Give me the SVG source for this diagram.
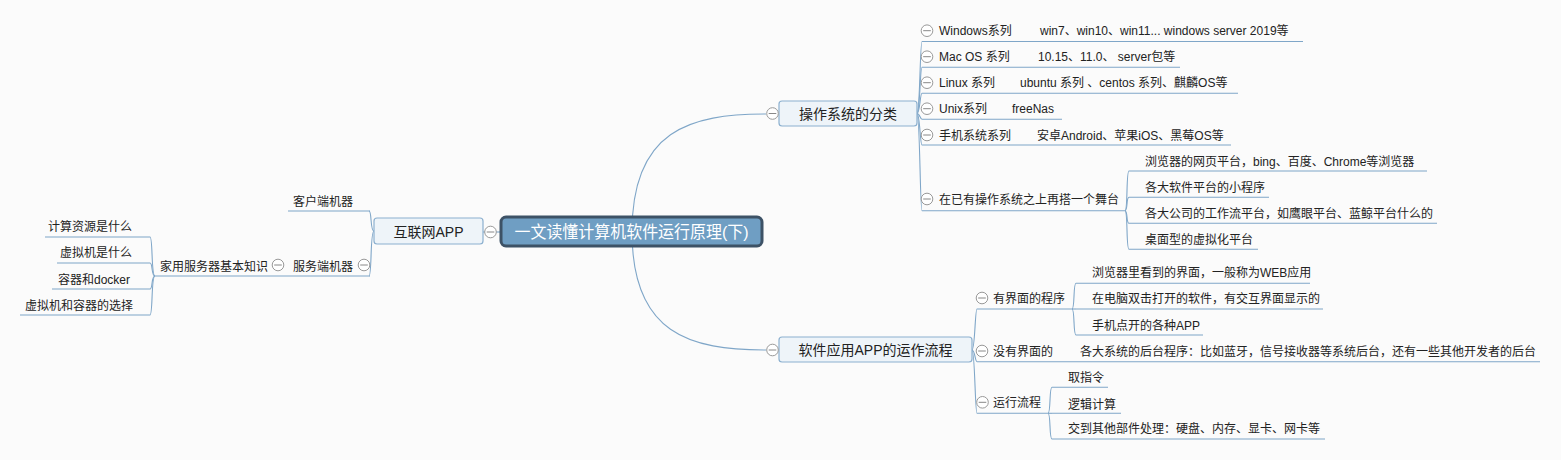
<svg xmlns="http://www.w3.org/2000/svg" xmlns:xlink="http://www.w3.org/1999/xlink" width="1561" height="460" viewBox="0 0 1561 460">
<style>
text{font-family:"Liberation Sans","Noto Sans CJK SC",sans-serif;fill:#222;font-size:12px}
.t14{font-size:14px}
.root{font-size:16.5px;fill:#fff}
.c{fill:none;stroke:#7fa6c8;stroke-width:1.1}
.u{fill:none;stroke:#7fa6c8;stroke-width:1.1}
.box{fill:#eef4f9;stroke:#8cb0cf;stroke-width:1.2}
.mc{fill:#fff;stroke:#999;stroke-width:1}
.ml{stroke:#888;stroke-width:1}
</style>
<defs>
<g id="minus"><circle class="mc" r="5.8"/><line class="ml" x1="-3.8" y1="0" x2="3.8" y2="0"/></g>
</defs>
<rect width="1561" height="460" fill="#fbfbfb"/>

<g id="connectors">
<path class="c" d="M632 232 C632 130 690 114 766 114"/>
<path class="c" d="M632 232 C632 334 690 350 766 350"/>
<path class="c" d="M483 232 L501 232"/>
<path class="c" d="M374 231 C370 231 372 211 369 211"/>
<path class="c" d="M374 231 C370 231 372 276 369 276"/>
<path class="c" d="M155 276 C151 276 153 237 150 237"/>
<path class="c" d="M155 276 C151 276 153 263 150 263"/>
<path class="c" d="M155 276 C151 276 153 289 150 289"/>
<path class="c" d="M155 276 C151 276 153 315 150 315"/>
<path class="c" d="M917 113.5 C920 113.5 920 41.5 922 41.5"/>
<path class="c" d="M917 113.5 C920 113.5 920 67.3 922 67.3"/>
<path class="c" d="M917 113.5 C920 113.5 920 93.3 922 93.3"/>
<path class="c" d="M917 113.5 C920 113.5 920 119.3 922 119.3"/>
<path class="c" d="M917 113.5 C920 113.5 920 145 922 145"/>
<path class="c" d="M917 113.5 C920 113.5 920 210.7 922 210.7"/>
<path class="c" d="M1125 210.7 C1128 210.7 1126 171 1129 171"/>
<path class="c" d="M1125 210.7 C1128 210.7 1126 197.3 1129 197.3"/>
<path class="c" d="M1125 210.7 C1128 210.7 1126 223.3 1129 223.3"/>
<path class="c" d="M1125 210.7 C1128 210.7 1126 249.3 1129 249.3"/>
<path class="c" d="M972 350 C975 350 975 309 977 309"/>
<path class="c" d="M972 350 C975 350 975 361.7 977 361.7"/>
<path class="c" d="M972 350 C975 350 975 413.3 977 413.3"/>
<path class="c" d="M1072 309 C1075 309 1073 283.3 1076 283.3"/>
<path class="c" d="M1072 309 L1076 309"/>
<path class="c" d="M1072 309 C1075 309 1073 335 1076 335"/>
<path class="c" d="M1048 413.3 C1051 413.3 1049 387.3 1052 387.3"/>
<path class="c" d="M1048 413.3 L1052 413.3"/>
<path class="c" d="M1048 413.3 C1051 413.3 1049 439 1052 439"/>
</g>

<g id="root">
<rect x="501" y="217" width="261" height="29" rx="5" fill="#6f9ec3" stroke="#3d5266" stroke-width="3"/>
<text class="root" x="631.5" y="237.5" text-anchor="middle" textLength="234" lengthAdjust="spacingAndGlyphs">一文读懂计算机软件运行原理(下)</text>
</g>

<g id="n-internet">
<rect class="box" x="374" y="218" width="109" height="26" rx="3"/>
<text class="t14" x="428.5" y="236.5" text-anchor="middle">互联网APP</text>
<use xlink:href="#minus" x="490.5" y="232"/>
</g>
<g id="n-client">
<text x="293" y="206">客户端机器</text>
<path class="u" d="M288 211 L370 211"/>
</g>
<g id="n-server">
<text x="293" y="270.5">服务端机器</text>
<path class="u" d="M288 276 L370 276"/>
<use xlink:href="#minus" x="364" y="265"/>
</g>
<g id="n-home">
<text x="160" y="270.5">家用服务器基本知识</text>
<path class="u" d="M155 276 L288 276"/>
<use xlink:href="#minus" x="278" y="265"/>
</g>
<g id="n-h1"><text x="132" y="231" text-anchor="end">计算资源是什么</text><path class="u" d="M45 237 L150 237"/></g>
<g id="n-h2"><text x="132" y="257" text-anchor="end">虚拟机是什么</text><path class="u" d="M57 263 L150 263"/></g>
<g id="n-h3"><text x="130" y="283.5" text-anchor="end">容器和docker</text><path class="u" d="M52 289 L150 289"/></g>
<g id="n-h4"><text x="133" y="309.5" text-anchor="end">虚拟机和容器的选择</text><path class="u" d="M20 315 L150 315"/></g>

<g id="n-os">
<rect class="box" x="779" y="101" width="138" height="25" rx="3"/>
<text class="t14" x="848" y="118.5" text-anchor="middle">操作系统的分类</text>
<use xlink:href="#minus" x="772.5" y="113.5"/>
</g>
<g id="n-win"><use xlink:href="#minus" x="927" y="30.7"/><text x="939" y="35.2">Windows系列</text><path class="u" d="M922 41.5 L1035 41.5"/></g>
<g id="n-win-c"><text x="1040" y="35.2">win7、win10、win11... windows server 2019等</text><path class="u" d="M1035 41.5 L1303 41.5"/></g>
<g id="n-mac"><use xlink:href="#minus" x="927" y="56.7"/><text x="939" y="61.2">Mac OS 系列</text><path class="u" d="M922 67.3 L1033 67.3"/></g>
<g id="n-mac-c"><text x="1038" y="61.2">10.15、11.0、 server包等</text><path class="u" d="M1033 67.3 L1180 67.3"/></g>
<g id="n-linux"><use xlink:href="#minus" x="927" y="82.7"/><text x="939" y="87.2">Linux 系列</text><path class="u" d="M922 93.3 L1015 93.3"/></g>
<g id="n-linux-c"><text x="1020" y="87.2">ubuntu 系列 、centos 系列、麒麟OS等</text><path class="u" d="M1015 93.3 L1238 93.3"/></g>
<g id="n-unix"><use xlink:href="#minus" x="927" y="108.7"/><text x="939" y="113.2">Unix系列</text><path class="u" d="M922 119.3 L1007 119.3"/></g>
<g id="n-unix-c"><text x="1012" y="113.2">freeNas</text><path class="u" d="M1007 119.3 L1062 119.3"/></g>
<g id="n-mobile"><use xlink:href="#minus" x="927" y="135"/><text x="939" y="139.5">手机系统系列</text><path class="u" d="M922 145 L1032 145"/></g>
<g id="n-mobile-c"><text x="1037" y="139.5">安卓Android、苹果iOS、黑莓OS等</text><path class="u" d="M1032 145 L1231 145"/></g>
<g id="n-stage"><use xlink:href="#minus" x="927" y="199"/><text x="939" y="203.5">在已有操作系统之上再搭一个舞台</text><path class="u" d="M922 210.7 L1125 210.7"/></g>
<g id="n-s1"><text x="1145" y="165.5">浏览器的网页平台，bing、百度、Chrome等浏览器</text><path class="u" d="M1129 171 L1427 171"/></g>
<g id="n-s2"><text x="1145" y="191.8">各大软件平台的小程序</text><path class="u" d="M1129 197.3 L1269 197.3"/></g>
<g id="n-s3"><text x="1145" y="217.8">各大公司的工作流平台，如鹰眼平台、蓝鲸平台什么的</text><path class="u" d="M1129 223.3 L1437 223.3"/></g>
<g id="n-s4"><text x="1145" y="243.8">桌面型的虚拟化平台</text><path class="u" d="M1129 249.3 L1258 249.3"/></g>

<g id="n-app">
<rect class="box" x="779" y="337" width="193" height="25" rx="3"/>
<text class="t14" x="875.5" y="355" text-anchor="middle">软件应用APP的运作流程</text>
<use xlink:href="#minus" x="772.5" y="350"/>
</g>
<g id="n-ui"><use xlink:href="#minus" x="982" y="298"/><text x="993" y="302.5">有界面的程序</text><path class="u" d="M977 309 L1072 309"/></g>
<g id="n-ui1"><text x="1092" y="276.5">浏览器里看到的界面，一般称为WEB应用</text><path class="u" d="M1076 283.3 L1310 283.3"/></g>
<g id="n-ui2"><text x="1092" y="302.8">在电脑双击打开的软件，有交互界面显示的</text><path class="u" d="M1076 309 L1323 309"/></g>
<g id="n-ui3"><text x="1092" y="329.5">手机点开的各种APP</text><path class="u" d="M1076 335 L1203 335"/></g>
<g id="n-noui"><use xlink:href="#minus" x="982" y="351"/><text x="993" y="355.8">没有界面的</text><path class="u" d="M977 361.7 L1070 361.7"/></g>
<g id="n-noui1"><text x="1080" y="356">各大系统的后台程序：比如蓝牙，信号接收器等系统后台，还有一些其他开发者的后台</text><path class="u" d="M1070 361.7 L1540 361.7"/></g>
<g id="n-run"><use xlink:href="#minus" x="982.5" y="402.3"/><text x="993" y="406.8">运行流程</text><path class="u" d="M977 413.3 L1048 413.3"/></g>
<g id="n-run1"><text x="1068" y="381.8">取指令</text><path class="u" d="M1052 387.3 L1108 387.3"/></g>
<g id="n-run2"><text x="1068" y="408.5">逻辑计算</text><path class="u" d="M1052 413.3 L1121 413.3"/></g>
<g id="n-run3"><text x="1068" y="432.8">交到其他部件处理：硬盘、内存、显卡、网卡等</text><path class="u" d="M1052 439 L1325 439"/></g>
</svg>
